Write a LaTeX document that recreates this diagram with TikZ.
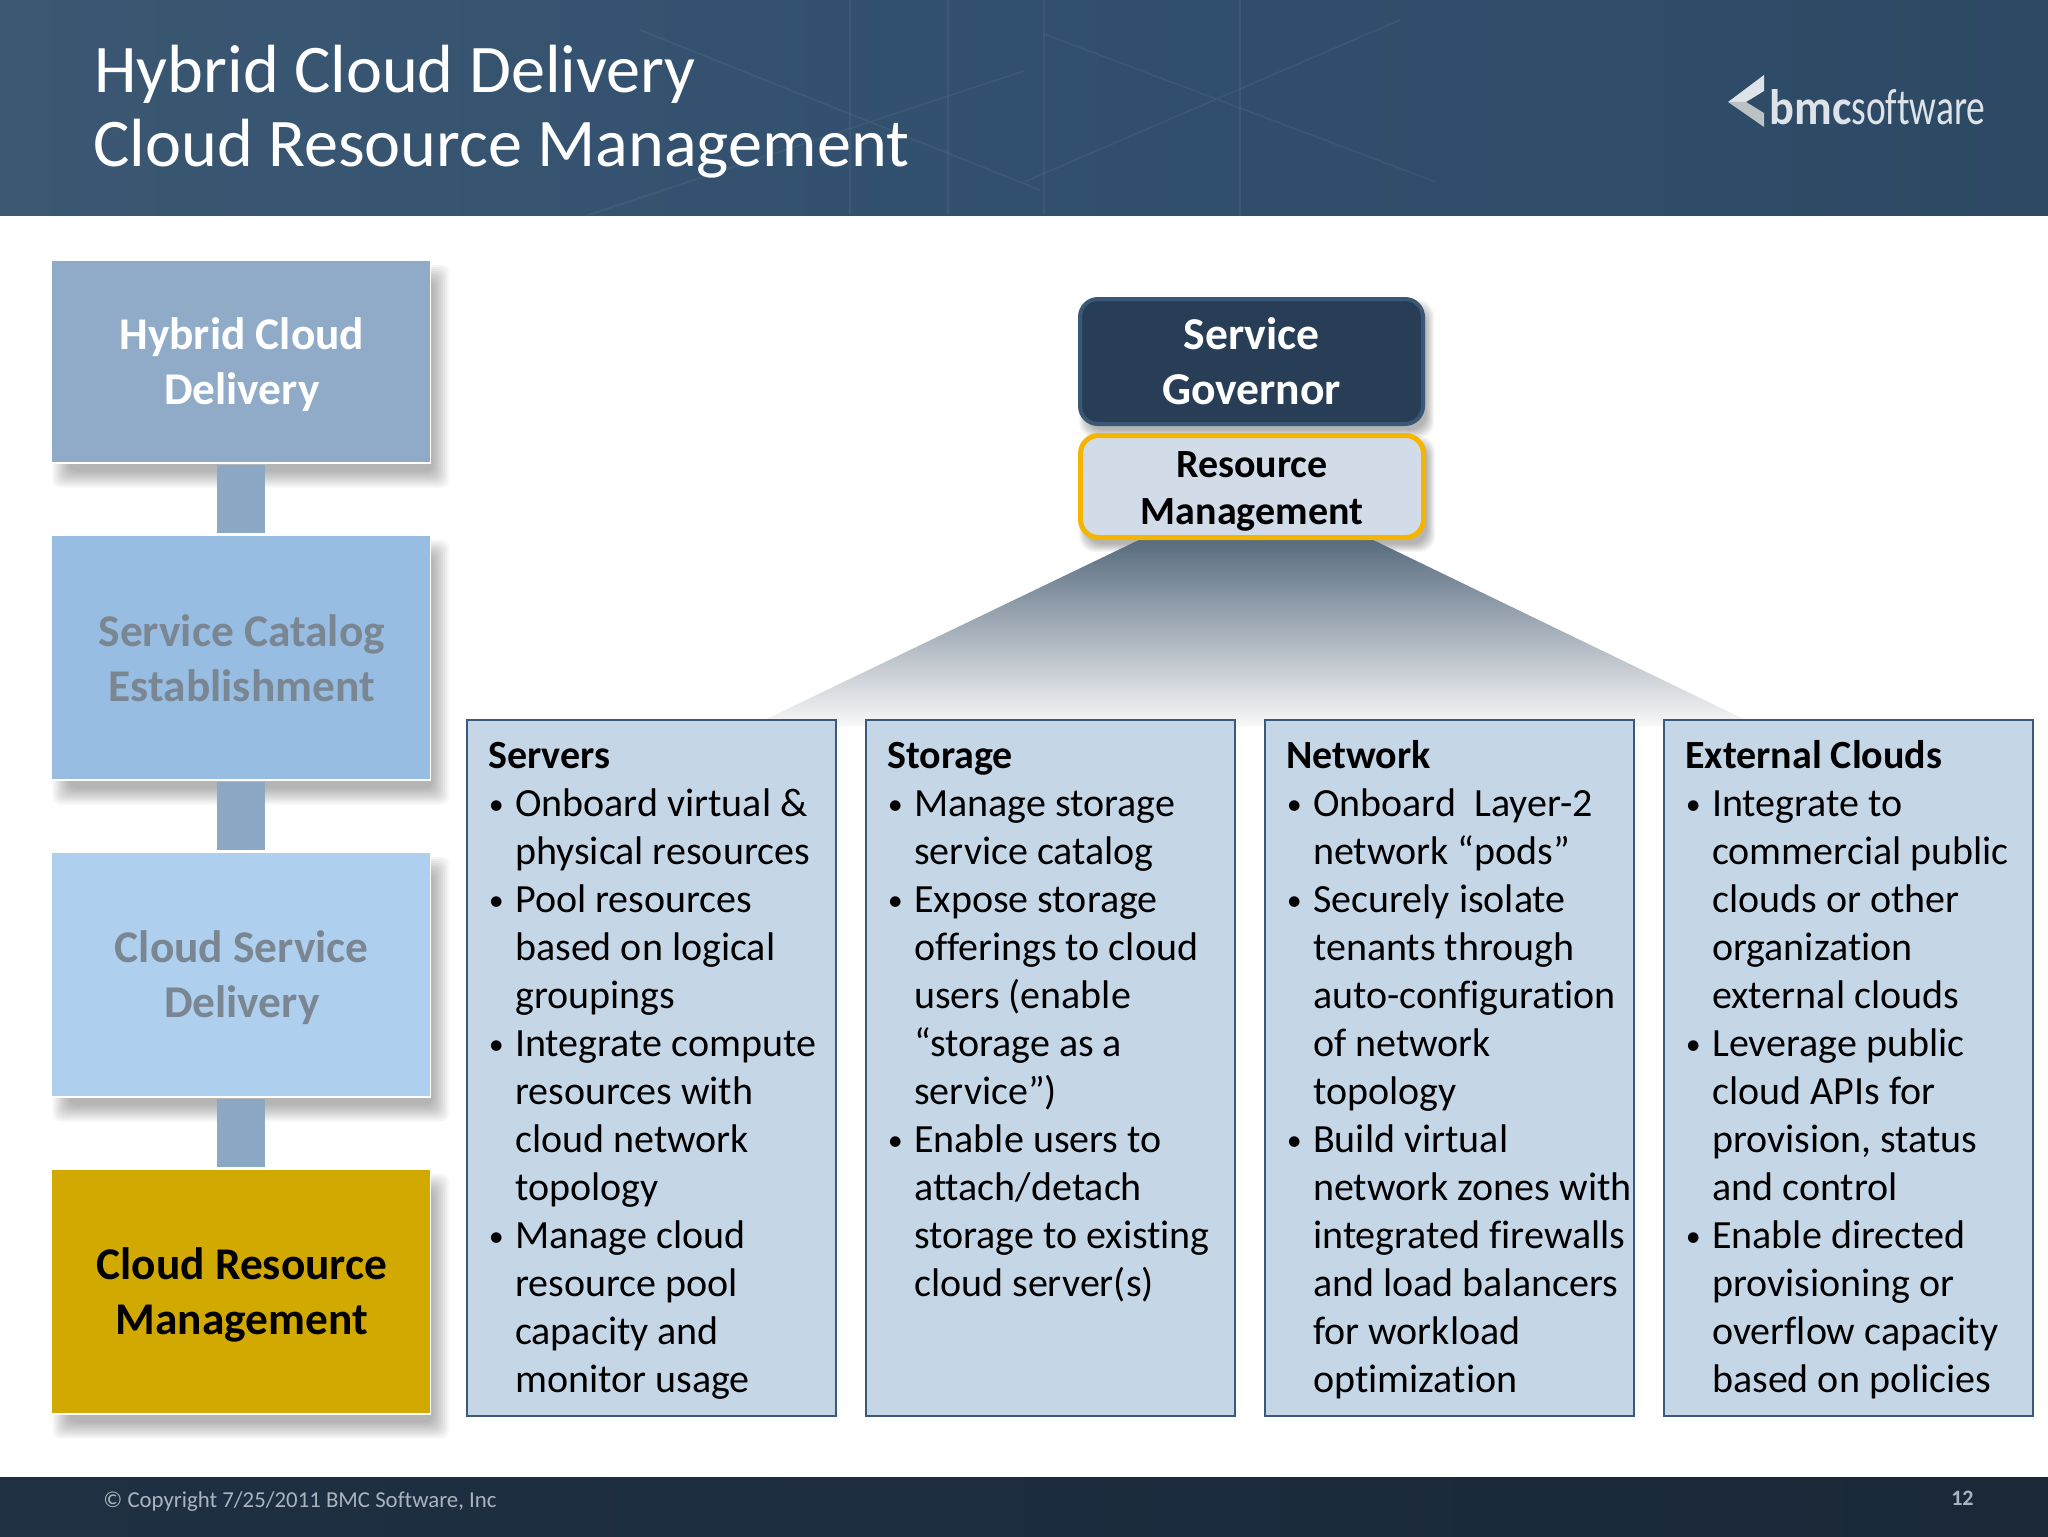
\documentclass[tikz,border=0pt]{standalone}
\usepackage{fontspec}
\usepackage{graphicx}
\setmainfont{Carlito}[Ligatures=NoCommon]
\usetikzlibrary{backgrounds}
% colours
\definecolor{headL}{HTML}{3B5772}
\definecolor{headM}{HTML}{31506E}
\definecolor{headN}{HTML}{2D4964}
\definecolor{headR}{HTML}{273A50}
\definecolor{footL}{HTML}{1F3044}
\definecolor{footR}{HTML}{1A2838}
\definecolor{stageA}{HTML}{8FABC8}
\definecolor{stageB}{HTML}{98BDE2}
\definecolor{stageC}{HTML}{AFCFEE}
\definecolor{stageD}{HTML}{D2A900}
\definecolor{link}{HTML}{8BA8C4}
\definecolor{dimtext}{HTML}{7A8792}
\definecolor{govfill}{HTML}{283E57}
\definecolor{govline}{HTML}{3A5775}
\definecolor{resfill}{HTML}{D2DCE9}
\definecolor{resline}{HTML}{F5B400}
\definecolor{colfill}{HTML}{C5D7E7}
\definecolor{colline}{HTML}{3A5A7A}
\definecolor{wedge}{HTML}{566A7E}
\definecolor{logotext}{HTML}{DDE3E9}
\definecolor{foottext}{HTML}{A9B4BF}
\pgfdeclarehorizontalshading{headband}{100bp}{color(0bp)=(headL); color(25bp)=(headL); color(50bp)=(headM); color(75bp)=(headN); color(100bp)=(headR)}
% lines of a column box
\newcommand{\itm}[1]{\hspace*{0.3pt}\makebox[13.2pt][l]{\raisebox{1.1pt}{\fontsize{15}{15}\selectfont\textbullet}}#1\\}
\newcommand{\cnt}[1]{\hspace*{13.5pt}#1\\}
\newcommand{\coltext}[2]{\begin{minipage}[t][348pt][t]{184.5pt}\raggedright\leftskip=10.5pt\vspace*{10.3pt}\rule{0pt}{14pt}\textbf{#1}\\#2\end{minipage}}
% soft shadow behind a node: node, scale, corner radius
\newcommand{\softshadow}[3]{\begin{pgfonlayer}{background}
  \foreach \d in {-8,-6,...,8}{
    \fill[black, opacity=0.035, rounded corners=#3]
      ([shift={({#2*(10+\d)},{#2*(14+\d)})}]#1.north west) rectangle ([shift={({#2*(10-\d)},{#2*(16-\d)})}]#1.south east);
  }
\end{pgfonlayer}}
\tikzset{
  x=0.5pt, y=-0.5pt,
  stage/.style={rectangle, draw=white, line width=0.8pt, anchor=north west, inner sep=0pt,
    minimum width=189.5pt},
  stagetext/.style={align=center, inner sep=0pt, xshift=0.5pt, font=\fontsize{22.7}{27.5}\selectfont\bfseries},
  linkbar/.style={draw=link, line width=24pt, shorten >=0.5pt, shorten <=0.5pt},
  govbox/.style={rectangle, rounded corners=9pt, anchor=north west, inner sep=0pt,
    minimum width=171.5pt, align=center, text=white, fill=govfill, draw=govline, line width=2pt,
    font=\fontsize{22.8}{27.5}\selectfont\bfseries},
  resbox/.style={govbox, fill=resfill, draw=resline, line width=2.5pt},
  restext/.style={align=center, inner sep=0pt, text=black, font=\fontsize{20}{23.5}\selectfont\bfseries},
  colbox/.style={rectangle, fill=colfill, draw=colline, line width=1.2pt, anchor=north west,
    inner sep=0pt, minimum width=184.5pt, minimum height=348pt, align=left,
    font=\fontsize{20}{24}\selectfont},
  hairline/.style={white, opacity=0.05, line width=0.8pt},
}
\begin{document}
\begin{tikzpicture}
\useasboundingbox (0,0) rectangle (2048,1536);
\begin{pgfonlayer}{background}
  \fill[white] (0,0) rectangle (2048,1536);
\end{pgfonlayer}
% header band
\shade[shading=headband] (0,0) rectangle (2048,215);
\begin{scope}
  \clip (0,0) rectangle (2048,215);
  \draw[hairline] (640,30) -- (1040,190) (588,215) -- (1024,71);
  \draw[hairline] (1044,34) -- (1436,182) (1024,182) -- (1400,20);
  \draw[hairline] (850,0) -- (850,215) (948,0) -- (948,215);
  \draw[hairline] (1044,0) -- (1044,215) (1240,0) -- (1240,215);
\end{scope}
\node[anchor=base west, inner sep=0pt, text=white, font=\fontsize{34.1}{34}\selectfont] (t1) at (94,92) {Hybrid Cloud Delivery};
\node[anchor=base west, inner sep=0pt, text=white, font=\fontsize{34.1}{34}\selectfont] (t2) at (93,166) {Cloud Resource Management};
% logo
\fill[logotext] (1728,102) -- (1764,75) -- (1764,91) -- (1746,102) -- cycle;
\fill[logotext!85!black] (1728,102) -- (1746,102) -- (1764,113) -- (1764,127) -- cycle;
\node[anchor=base west, inner sep=0pt, text=logotext] (logo) at (1769,125)
  {\resizebox{41pt}{17.5pt}{\textbf{bmc}}\resizebox{67pt}{17.5pt}{software}};
% footer band
\shade[left color=footL, right color=footR] (0,1477) rectangle (2048,1536);
\node[anchor=base west, inner sep=0pt, text=foottext, font=\fontsize{11.4}{12}\selectfont] (copy) at (103,1507)
  {© Copyright 7/25/2011 BMC Software, Inc};
\node[anchor=base east, inner sep=0pt, text=foottext, font=\fontsize{11}{12}\selectfont\bfseries] (page) at (1974,1505) {12};
% wedge under resource management
\shade[top color=wedge, bottom color=black!3] (1143,538) -- (1369,538) -- (1758,726) -- (752,726) -- cycle;
% stages down the left
\node[stage, fill=stageA, minimum height=101.5pt,
  label={[stagetext, yshift=-1.8pt, text=white]center:Hybrid Cloud\\Delivery}] (s1) at (50.5,259) {};
\node[stage, fill=stageB, minimum height=122.5pt,
  label={[stagetext, yshift=-0.5pt, text=dimtext]center:Service Catalog\\Establishment}] (s2) at (50.5,534) {};
\node[stage, fill=stageC, minimum height=122.5pt,
  label={[stagetext, yshift=-1.8pt, text=dimtext]center:Cloud Service\\Delivery}] (s3) at (50.5,851) {};
\node[stage, fill=stageD, minimum height=122.5pt,
  label={[stagetext, yshift=-2pt, text=black]center:Cloud Resource\\Management}] (s4) at (50.5,1168) {};
\softshadow{s1}{1}{4pt}
\softshadow{s2}{1}{4pt}
\softshadow{s3}{1}{4pt}
\softshadow{s4}{1}{4pt}
\draw[linkbar] (s1.south) -- (s2.north);
\draw[linkbar] (s2.south) -- (s3.north);
\draw[linkbar] (s3.south) -- (s4.north);
% governor and resource management
\node[govbox, minimum height=62.5pt] (gov) at (1078,297) {Service\\Governor};
\node[resbox, minimum height=51pt,
  label={[restext, yshift=-2.6pt]center:Resource\\Management}] (res) at (1078,433) {};
\softshadow{gov}{0.5}{8pt}
\softshadow{res}{0.5}{8pt}
% the four columns
\node[colbox] (c1) at (466,719) {\coltext{Servers}{%
  \itm{Onboard virtual \&}\cnt{physical resources}%
  \itm{Pool resources}\cnt{based on logical}\cnt{groupings}%
  \itm{Integrate compute}\cnt{resources with}\cnt{cloud network}\cnt{topology}%
  \itm{Manage cloud}\cnt{resource pool}\cnt{capacity and}\cnt{monitor usage}}};
\node[colbox] (c2) at (865,719) {\coltext{Storage}{%
  \itm{Manage storage}\cnt{service catalog}%
  \itm{Expose storage}\cnt{offerings to cloud}\cnt{users (enable}\cnt{“storage as a}\cnt{service”)}%
  \itm{Enable users to}\cnt{attach/detach}\cnt{storage to existing}\cnt{cloud server(s)}}};
\node[colbox] (c3) at (1264,719) {\coltext{Network}{%
  \itm{Onboard\ \ Layer-2}\cnt{network “pods”}%
  \itm{Securely isolate}\cnt{tenants through}\cnt{auto-configuration}\cnt{of network}\cnt{topology}%
  \itm{Build virtual}\cnt{network zones with}\cnt{integrated firewalls}\cnt{and load balancers}\cnt{for workload}\cnt{optimization}}};
\node[colbox] (c4) at (1663,719) {\coltext{External Clouds}{%
  \itm{Integrate to}\cnt{commercial public}\cnt{clouds or other}\cnt{organization}\cnt{external clouds}%
  \itm{Leverage public}\cnt{cloud APIs for}\cnt{provision, status}\cnt{and control}%
  \itm{Enable directed}\cnt{provisioning or}\cnt{overflow capacity}\cnt{based on policies}}};
\end{tikzpicture}
\end{document}
